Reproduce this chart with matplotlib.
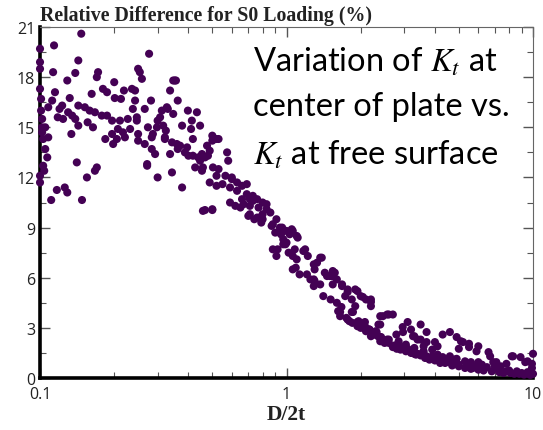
import numpy as np
import matplotlib
matplotlib.use("Agg")
import matplotlib.pyplot as plt
from matplotlib.ticker import FixedLocator, LogLocator, NullFormatter, FixedFormatter

# points: D/2t and relative difference (%)
x_vals = [
    # left edge stack near 0.1
    0.100, 0.100, 0.100, 0.101, 0.102, 0.100, 0.102, 0.103, 0.105, 0.107, 0.103, 0.100, 0.100,
    0.101, 0.102, 0.104,
    # 0.1 - 0.3 band
    0.147, 0.114, 0.143, 0.113, 0.139, 0.129, 0.172, 0.170, 0.200, 0.277, 0.250, 0.254,
    0.259, 0.236, 0.243, 0.180, 0.187, 0.219, 0.201, 0.213, 0.243, 0.162, 0.115, 0.112,
    0.132, 0.108, 0.123, 0.120, 0.143, 0.152, 0.130, 0.135, 0.159, 0.167, 0.178, 0.187,
    0.118, 0.124, 0.139, 0.143, 0.156, 0.164, 0.196, 0.211, 0.227, 0.247, 0.207, 0.217,
    0.196, 0.184, 0.198, 0.205, 0.221, 0.232, 0.250, 0.266, 0.274, 0.287, 0.105, 0.108,
    0.134, 0.141, 0.170, 0.167, 0.155, 0.272, 0.300, 0.117, 0.126, 0.129, 0.111, 0.148,
    0.293, 0.284, 0.347, 0.337,
    # 0.25 - 0.6
    0.356, 0.238, 0.282, 0.362, 0.266, 0.312, 0.327, 0.398, 0.433, 0.307, 0.300, 0.247,
    0.347, 0.413, 0.446, 0.377, 0.298, 0.316, 0.324, 0.284, 0.321, 0.343, 0.417, 0.500,
    0.520, 0.250, 0.359, 0.362, 0.387, 0.400, 0.476, 0.488, 0.454, 0.438, 0.467, 0.574,
    0.580, 0.337, 0.272, 0.343, 0.377, 0.426, 0.454, 0.503, 0.530, 0.520, 0.488, 0.520,
    0.565, 0.600, 0.630, 0.590, 0.630, 0.660, 0.690, 0.660, 0.710, 0.590, 0.620, 0.650,
    0.760, 0.800, 0.830, 0.467, 0.500, 0.710, 0.760, 0.800, 0.880, 0.940, 1.000, 1.060,
    0.860, 0.910, 0.352, 0.330, 0.321, 0.395, 0.370, 0.458, 0.550, 0.600, 0.690, 0.480,
    0.417, 0.446, 0.410, 0.500, 0.530,
    # 0.45 - 1.5 main band
    0.458, 0.500, 0.670, 0.710, 0.730, 0.770, 0.830, 0.700, 0.740, 0.790, 0.800, 0.870,
    0.900, 0.970, 1.030, 1.100, 0.920, 1.020, 1.000, 1.060, 1.130, 1.190, 1.220, 1.100,
    1.290, 1.300, 1.370, 1.430, 1.300, 1.370, 1.290, 1.500, 1.600, 1.540, 0.730, 0.780,
    0.950, 1.050, 0.970, 1.080, 1.290, 1.330, 1.390, 0.960, 1.110, 1.060, 1.090, 1.170,
    1.210, 1.250, 1.460, 1.530, 1.570, 0.880, 0.910, 0.990,
    # 1.4 - 3 band
    1.410, 1.510, 1.600, 1.670, 1.770, 1.940, 2.040, 2.200, 1.650, 1.800, 1.940, 2.080,
    2.400, 2.700, 1.680, 1.770, 1.900, 1.840, 2.000, 2.100, 2.200, 2.200, 1.650, 1.770,
    1.860, 1.940, 2.040, 2.170, 2.300, 2.400, 2.600, 2.400, 2.200, 2.400, 2.600, 2.800,
    1.540, 1.680, 1.840, 1.900, 1.960, 2.080, 2.170, 2.360, 2.460, 2.560, 2.320, 2.420,
    2.560, 1.730, 1.620, 2.250, 2.500,
    # 2.5 - 10 tail
    2.790, 2.960, 3.100, 3.200, 3.500, 3.260, 3.500, 3.700, 2.700, 2.900, 3.260, 3.580,
    3.900, 4.300, 3.900, 4.000, 4.300, 4.600, 4.900, 5.100, 5.500, 5.900, 6.600, 4.600,
    4.900, 5.300, 5.400, 5.900, 6.500, 7.100, 7.800, 8.600, 9.500, 10.00, 7.100, 7.800,
    8.300, 8.900, 9.500, 10.00, 9.900, 6.000, 6.200, 2.970, 3.300, 3.400, 3.700, 4.100,
    3.100, 3.400, 3.700, 3.900, 4.300, 4.600, 5.200, 5.500, 6.000, 6.700, 5.000, 5.700,
    6.900, 7.400, 8.200, 9.300, 8.000, 9.000, 9.800, 3.000, 3.300, 4.500, 5.000, 2.850,
    3.050, 3.600, 4.150,
    # lower floor of the cloud
    2.00, 2.10, 2.25, 2.35, 2.50, 2.60, 2.75, 2.90, 3.05, 3.20,
    3.35, 3.50, 3.65, 3.80, 4.00, 4.20, 4.40, 4.70, 5.00, 5.30,
    5.60, 6.00, 6.30, 6.80, 7.30, 7.60, 8.10, 8.40, 8.80, 9.20,
    9.70, 9.90, 3.30, 3.60, 4.10, 4.80, 5.60, 6.20, 7.00, 1.75,
    1.85, 2.15,
]
y_vals = [
    19.7, 18.9, 18.5, 16.7, 15.5, 17.3, 15.0, 14.3, 13.7, 13.2, 12.7, 12.1, 11.7,
    16.0, 14.7, 12.4,
    20.6, 19.9, 19.0, 18.3, 18.25, 17.8, 18.3, 18.0, 17.7, 19.4, 18.5, 18.3,
    17.9, 17.3, 17.2, 17.3, 17.1, 17.2, 16.75, 16.7, 16.6, 17.0, 17.1, 16.6,
    16.75, 16.2, 16.3, 16.1, 16.3, 16.2, 15.9, 15.7, 16.0, 15.9, 15.7, 15.7,
    15.6, 15.5, 15.5, 15.1, 15.3, 15.0, 15.4, 15.4, 15.5, 15.4, 14.9, 14.7,
    14.6, 14.3, 14.0, 14.3, 14.4, 14.9, 14.6, 14.0, 15.0, 14.6, 15.0, 14.4,
    14.6, 12.9, 12.6, 12.4, 12.0, 12.8, 12.0, 11.25, 11.4, 11.1, 10.65, 10.65,
    13.4, 13.7, 17.8, 17.2,
    17.8, 16.1, 16.6, 16.6, 16.1, 16.0, 16.2, 16.0, 15.9, 15.6, 15.4, 15.6,
    15.8, 15.4, 15.1, 15.1, 15.0, 15.1, 14.8, 14.4, 14.4, 14.1, 14.3, 14.5,
    14.3, 14.2, 14.0, 13.7, 13.5, 13.3, 13.9, 13.6, 13.4, 13.2, 13.2, 13.5,
    13.0, 13.4, 12.7, 12.3, 11.4, 12.6, 12.4, 12.6, 12.5, 12.1, 11.7, 11.5,
    12.1, 11.9, 11.7, 11.4, 11.2, 11.5, 11.0, 10.7, 10.7, 10.5, 10.3, 10.2,
    10.7, 10.5, 10.1, 10.05, 10.1, 9.8, 9.6, 9.5, 9.2, 9.0, 8.8, 8.8,
    9.9, 9.5, 17.8, 16.1, 14.3, 13.8, 13.9, 12.6, 11.6, 12.0, 11.6, 13.3,
    13.3, 13.0, 14.9, 14.2, 14.3,
    10.0, 10.05, 10.4, 10.3, 10.6, 10.2, 10.4, 9.7, 9.5, 9.3, 9.8, 9.1,
    8.7, 8.3, 8.6, 8.5, 7.7, 7.5, 8.1, 6.5, 6.2, 7.7, 7.3, 7.1,
    6.8, 6.5, 7.2, 6.3, 5.8, 5.6, 5.9, 6.1, 5.9, 6.4, 10.9, 9.6,
    8.6, 8.9, 8.0, 7.7, 5.5, 6.9, 7.2, 9.0, 8.4, 7.3, 6.6, 7.6,
    6.2, 5.9, 6.1, 6.1, 6.3, 7.7, 7.3, 8.0,
    4.9, 4.7, 4.5, 4.25, 5.3, 5.2, 4.85, 4.7, 3.7, 3.4, 3.1, 3.35,
    3.7, 3.8, 5.5, 5.15, 5.3, 4.7, 4.9, 4.7, 4.55, 4.3, 3.95, 3.5,
    3.95, 3.35, 3.1, 2.9, 2.8, 3.2, 3.8, 2.2, 2.5, 2.45, 2.3, 1.75,
    5.6, 5.6, 3.95, 4.3, 3.4, 3.1, 2.9, 3.2, 3.7, 3.8, 2.75, 2.45,
    2.3, 4.9, 4.0, 2.6, 2.1,
    2.6, 3.05, 3.35, 2.9, 3.2, 2.5, 2.3, 2.15, 1.85, 1.7, 1.6, 1.55,
    1.3, 1.25, 1.7, 2.15, 2.6, 2.75, 2.45, 2.2, 2.05, 1.6, 1.55, 1.3,
    1.15, 1.0, 0.85, 0.7, 0.65, 0.55, 0.4, 0.4, 0.35, 0.25, 0.95, 0.85,
    1.3, 1.25, 1.0, 1.45, 0.85, 0.95, 0.65, 2.75, 2.5, 2.3, 2.75, 1.9,
    1.75, 1.45, 1.3, 1.15, 1.0, 0.95, 2.15, 1.85, 1.9, 1.3, 0.8, 0.6,
    0.95, 0.7, 1.3, 0.95, 0.45, 0.3, 0.2, 1.9, 1.45, 1.05, 1.75, 2.2,
    2.0, 1.9, 1.2,
    3.0, 2.8, 2.6, 2.5, 2.2, 2.1, 1.95, 1.8, 1.6, 1.5,
    1.4, 1.35, 1.2, 1.1, 1.05, 0.9, 0.9, 0.75, 0.7, 0.6,
    0.55, 0.5, 0.45, 0.4, 0.35, 0.3, 0.3, 0.25, 0.25, 0.2,
    0.2, 0.6, 1.8, 1.6, 1.4, 1.1, 0.95, 0.8, 0.7, 3.6,
    3.3, 2.9,
]

y_ticks = [0, 3, 6, 9, 12, 15, 18, 21]
x_ticks = [0.1, 1, 10]
x_tick_labels = ["0.1", "1", "10"]

plt.rcParams["mathtext.fontset"] = "stix"

fig = plt.figure(figsize=(5.43, 4.31), dpi=100, facecolor="white")
ax = fig.add_axes([0.0737, 0.1206, 0.9079, 0.8144])

ax.scatter(x_vals, y_vals, s=34, color="#440154", edgecolors="none", zorder=3, clip_on=False)

ax.set_xscale("log")
ax.set_xlim(0.1, 10)
ax.set_ylim(0, 21)

ax.xaxis.set_major_locator(FixedLocator(x_ticks))
ax.xaxis.set_major_formatter(FixedFormatter(x_tick_labels))
ax.xaxis.set_minor_locator(LogLocator(base=10, subs=np.arange(2, 10)))
ax.xaxis.set_minor_formatter(NullFormatter())
ax.yaxis.set_major_locator(FixedLocator(y_ticks))
ax.yaxis.set_minor_locator(FixedLocator(np.arange(1.5, 21, 3)))

ax.tick_params(which="both", direction="in", top=True, right=True, color="#555555",
               labelsize=11.5, labelcolor="#222222")
ax.tick_params(which="major", length=7, width=1)
ax.tick_params(which="minor", length=4, width=0.8)
ax.tick_params(axis="x", pad=6)
for lab in ax.get_xticklabels() + ax.get_yticklabels():
    lab.set_family("Open Sans")

ax.spines["left"].set_linewidth(2.6)
ax.spines["bottom"].set_linewidth(2.6)
ax.spines["top"].set_linewidth(0.8)
ax.spines["right"].set_linewidth(0.8)
ax.spines["top"].set_color("#666666")
ax.spines["right"].set_color("#666666")

fig.text(0.0737, 0.952, "Relative Difference for S0 Loading (%)", family="Liberation Serif",
         fontweight="bold", fontsize=14.3, ha="left", va="baseline", color="#222222")
ax.set_xlabel("D/2t", family="Liberation Serif", fontweight="bold", fontsize=15.5, labelpad=1,
              color="#222222")

ax.text(0.432, 0.772, "Variation of $K_t$ at\ncenter of plate vs.\n$K_t$ at free surface",
        transform=ax.transAxes, family="Lato", fontsize=23.5, ha="left", va="center",
        linespacing=1.62, color="black", zorder=5)

fig.savefig("out.png", dpi=100, facecolor="white")
